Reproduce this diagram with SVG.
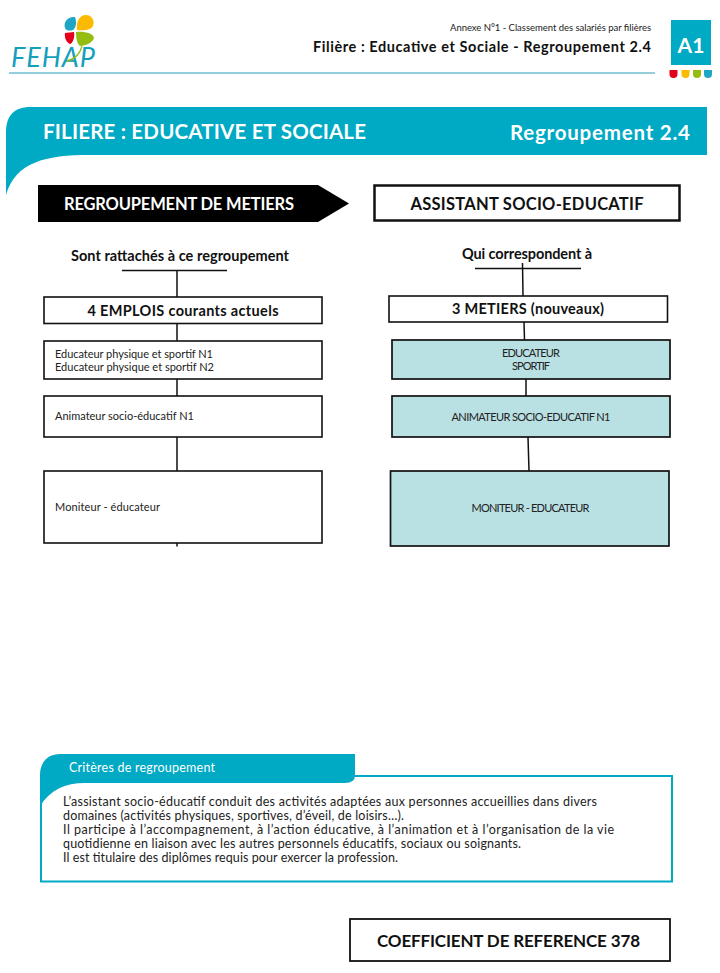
<svg xmlns="http://www.w3.org/2000/svg" width="720" height="973" viewBox="0 0 720 973">
<style>
text{font-family:"Lato","Open Sans","Liberation Sans",sans-serif;fill:#111}
.b{font-weight:700}
.w{fill:#fff}
.c{text-anchor:middle}
.box{fill:#fff;stroke:#111;stroke-width:1.6}
.teal{fill:#b9e0e3;stroke:#111;stroke-width:1.7}
.con{stroke:#111;stroke-width:1.5;fill:none}
.s{font-size:11px;fill:#222}
.p{font-size:12.5px;fill:#222}
.h{font-size:14.5px;font-weight:700}
</style>
<rect width="720" height="973" fill="#fff"/>
<g id="logo">
<path d="M65,28 C63,22 68,16 75,17 C77,22 76,28 73,30 C70,31 66,31 65,28Z" fill="#1ea6c4"/>
<path d="M77,30 C76,22 79,15 86,15 C92,15 95,21 93,26 C91,30 84,31 77,30Z" fill="#fbb900"/>
<path d="M65,33 L74,32 C75,37 73,43 70,44 C67,43 64,38 65,33Z" fill="#e2001a"/>
<path d="M76,32 C84,31 93,33 94,38 C93,43 84,46 80,46 C77,44 76,38 76,32Z" fill="#94bd0f"/>
<text x="11" y="67" font-size="27" font-style="italic" textLength="84" lengthAdjust="spacing" style="fill:#159fbc">FEHAP</text>
<path d="M82,46 C80,54 76,59 67,61" fill="none" stroke="#94bd0f" stroke-width="1.3"/>
</g>
<g id="header">
<path d="M9,73 H655" stroke="#2a9db8" stroke-width="1.2" fill="none"/>
<text x="651" y="31" font-size="9.5" text-anchor="end" textLength="201" lengthAdjust="spacing" style="fill:#222">Annexe N°1 - Classement des salariés par filières</text>
<text x="651" y="52" class="b" font-size="14.5" text-anchor="end" textLength="338" lengthAdjust="spacing">Filière : Educative et Sociale - Regroupement 2.4</text>
</g>
<g id="badge">
<rect x="671" y="20" width="40" height="45" fill="#00a9c4"/>
<text x="691" y="53" class="w c b" font-size="21">A1</text>
<path d="M669.500,70 H677.500 V74 A4,4 0 0 1 669.500,74Z" fill="#e2001a"/>
<path d="M681.500,70 H689.500 V74 A4,4 0 0 1 681.500,74Z" fill="#fbb900"/>
<path d="M693,70 H701 V74 A4,4 0 0 1 693,74Z" fill="#94bd0f"/>
<path d="M704,70 H712 V74 A4,4 0 0 1 704,74Z" fill="#1ea6c4"/>
</g>
<g id="banner">
<path d="M6,195 L6,132 C6,116 14,107 30,107 H707 V155 H90 C45,155 16,162 6,195Z" fill="#00a9c4"/>
<text x="43" y="139" class="w b" font-size="20.500" textLength="323" lengthAdjust="spacing">FILIERE : EDUCATIVE ET SOCIALE</text>
<text x="510" y="140" class="w b" font-size="20.500" textLength="180" lengthAdjust="spacing">Regroupement 2.4</text>
</g>
<g id="connectors">
<path class="con" d="M122,270.500 H227 M177,270 V297 M177,323 V341 M177,379 V396 M177,437 V471 M177,543 V546.500"/>
<path class="con" d="M475,268.500 H581 M522.500,263 L523,296 M524,322 L524.500,340 M526,379 V396 M528,437 L529,471"/>
</g>
<g id="regroupement">
<path d="M38,185 H318 L349,203.500 L318,222 H38Z" fill="#000"/>
<text x="64" y="210" class="w b" font-size="16.500" textLength="230" lengthAdjust="spacing">REGROUPEMENT DE METIERS</text>
</g>
<g id="assistant">
<rect x="374.500" y="185.500" width="305" height="35" fill="#fff" stroke="#111" stroke-width="2.500"/>
<text x="527" y="210" class="b c" font-size="16.500" textLength="233" lengthAdjust="spacing">ASSISTANT SOCIO-EDUCATIF</text>
</g>
<g id="label-left"><text x="180" y="261" class="h c" textLength="218" lengthAdjust="spacing">Sont rattachés à ce regroupement</text></g>
<g id="label-right"><text x="527" y="259" class="h c" textLength="130" lengthAdjust="spacing">Qui correspondent à</text></g>
<g id="emplois">
<rect class="box" x="44" y="297" width="278" height="26.500"/>
<text x="183" y="316" class="h c" textLength="191" lengthAdjust="spacing">4 EMPLOIS courants actuels</text>
</g>
<g id="emploi-1">
<rect class="box" x="44" y="341" width="278" height="38"/>
<text x="55" y="358" class="s" textLength="158" lengthAdjust="spacing">Educateur physique et sportif N1</text>
<text x="55" y="371" class="s" textLength="159" lengthAdjust="spacing">Educateur physique et sportif N2</text>
</g>
<g id="emploi-2">
<rect class="box" x="44" y="396" width="278" height="41"/>
<text x="55" y="420" class="s" textLength="139" lengthAdjust="spacing">Animateur socio-éducatif N1</text>
</g>
<g id="emploi-3">
<rect class="box" x="44" y="471" width="278" height="72"/>
<text x="55" y="511" class="s" textLength="105" lengthAdjust="spacing">Moniteur - éducateur</text>
</g>
<g id="metiers">
<rect class="box" x="389" y="296" width="278.500" height="26"/>
<text x="528" y="314" class="h c" textLength="152" lengthAdjust="spacing">3 METIERS (nouveaux)</text>
</g>
<g id="metier-1">
<rect class="teal" x="392" y="340" width="278" height="39"/>
<text x="531" y="357" class="s c" textLength="58" lengthAdjust="spacing">EDUCATEUR</text>
<text x="531" y="370" class="s c" textLength="38" lengthAdjust="spacing">SPORTIF</text>
</g>
<g id="metier-2">
<rect class="teal" x="392" y="396" width="278" height="41"/>
<text x="531" y="421" class="s c" textLength="159" lengthAdjust="spacing">ANIMATEUR SOCIO-EDUCATIF N1</text>
</g>
<g id="metier-3">
<rect class="teal" x="390.500" y="471" width="278.500" height="75"/>
<text x="530.500" y="512" class="s c" textLength="118" lengthAdjust="spacing">MONITEUR - EDUCATEUR</text>
</g>
<g id="criteres">
<rect x="41" y="776" width="631" height="105.500" fill="#fff" stroke="#00a9c4" stroke-width="2"/>
<path d="M40,775 C40,762 48,754 60,754 H355 V775 Q355,783 345,783 H85 C65,783 50,790 40,806Z" fill="#00a9c4"/>
<text x="69" y="772" class="w" font-size="12.500" textLength="146" lengthAdjust="spacing">Critères de regroupement</text>
<text x="63" y="806" class="p" textLength="534" lengthAdjust="spacing">L’assistant socio-éducatif conduit des activités adaptées aux personnes accueillies dans divers</text>
<text x="63" y="820" class="p" textLength="341" lengthAdjust="spacing">domaines (activités physiques, sportives, d’éveil, de loisirs…).</text>
<text x="63" y="834" class="p" textLength="551" lengthAdjust="spacing">Il participe à l’accompagnement, à l’action éducative, à l’animation et à l’organisation de la vie</text>
<text x="63" y="848" class="p" textLength="458" lengthAdjust="spacing">quotidienne en liaison avec les autres personnels éducatifs, sociaux ou soignants.</text>
<text x="63" y="862" class="p" textLength="335" lengthAdjust="spacing">Il est titulaire des diplômes requis pour exercer la profession.</text>
</g>
<g id="coefficient">
<rect x="350" y="919" width="320" height="42" fill="#fff" stroke="#111" stroke-width="1.800"/>
<text x="508.500" y="947" class="b c" font-size="17" textLength="263" lengthAdjust="spacing">COEFFICIENT DE REFERENCE 378</text>
</g>
</svg>
